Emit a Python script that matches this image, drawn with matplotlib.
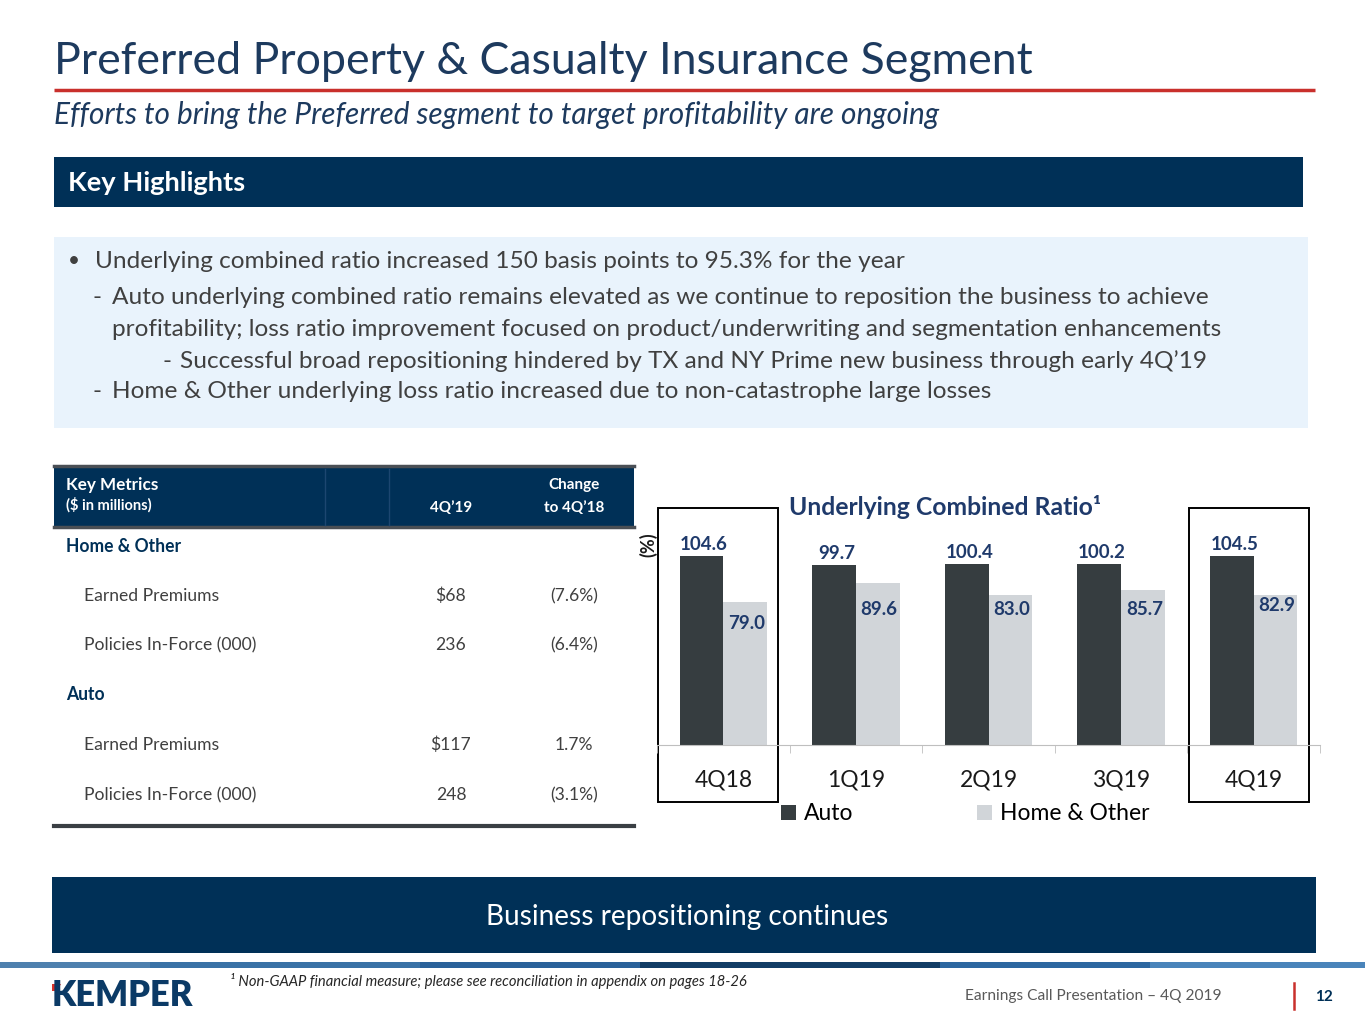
import matplotlib
matplotlib.use("Agg")
import matplotlib.pyplot as plt
from matplotlib.patches import Rectangle, Polygon
import numpy as np

# ---- data ----
quarters = ["4Q18", "1Q19", "2Q19", "3Q19", "4Q19"]
auto_ratio = [104.6, 99.7, 100.4, 100.2, 104.5]
home_ratio = [79.0, 89.6, 83.0, 85.7, 82.9]
series_names = ["Auto", "Home & Other"]
boxed = ["4Q18", "4Q19"]

metric_rows = ["Home & Other", "Earned Premiums", "Policies In-Force (000)",
               "Auto", "Earned Premiums", "Policies In-Force (000)"]
metric_values = ["", "$68", "236", "", "$117", "248"]
metric_change = ["", "(7.6%)", "(6.4%)", "", "1.7%", "(3.1%)"]

bullets = [
    "Underlying combined ratio increased 150 basis points to 95.3% for the year",
    "Auto underlying combined ratio remains elevated as we continue to reposition the business to achieve",
    "profitability; loss ratio improvement focused on product/underwriting and segmentation enhancements",
    "Successful broad repositioning hindered by TX and NY Prime new business through early 4Q\u201919",
    "Home & Other underlying loss ratio increased due to non-catastrophe large losses",
]

# ---- colours ----
NAVY = "#003057"
TITLE = "#1D3A5E"
LABEL = "#1F3A6B"
BODY = "#404040"
AUTO_C = "#363D40"
HOME_C = "#D1D5D9"

plt.rcParams["font.family"] = ["Lato", "DejaVu Sans"]

fig = plt.figure(figsize=(13.65, 10.24), dpi=100)
bg = fig.add_axes([0, 0, 1, 1])
bg.set_xlim(0, 1365)
bg.set_ylim(1024, 0)
bg.axis("off")
renderer = fig.canvas.get_renderer()


def fit(x, y, s, width, **kw):
    # sets the font size so the text is about `width` pixels wide
    t = bg.text(x, y, s, fontsize=12, **kw)
    w = t.get_window_extent(renderer).width
    t.set_fontsize(12 * width / w)
    return t


# title block
fit(54, 62, "Preferred Property & Casualty Insurance Segment", 976, color=TITLE, va="center")
bg.plot([54, 1315], [90, 90], color="#C9302C", lw=2.5, solid_capstyle="butt")
fit(54, 115, "Efforts to bring the Preferred segment to target profitability are ongoing", 881,
    color=TITLE, style="italic", va="center")

# key highlights
bg.add_patch(Rectangle((54, 157), 1249, 50, color=NAVY, lw=0))
fit(68, 183, "Key Highlights", 177, color="white", weight="bold", va="center")
bg.add_patch(Rectangle((54, 237), 1254, 191, color="#E9F3FC", lw=0))

t = fit(112, 329, bullets[2], 1105, color=BODY, va="center")
fs = t.get_fontsize()
bg.text(68, 261, "\u2022", fontsize=fs * 0.85, color=BODY, va="center")
bg.text(95, 261, bullets[0], fontsize=fs, color=BODY, va="center")
bg.text(92, 297, "-", fontsize=fs, color=BODY, va="center")
bg.text(112, 297, bullets[1], fontsize=fs, color=BODY, va="center")
bg.text(162, 361, "-", fontsize=fs, color=BODY, va="center")
bg.text(180, 361, bullets[3], fontsize=fs, color=BODY, va="center")
bg.text(92, 392, "-", fontsize=fs, color=BODY, va="center")
bg.text(112, 392, bullets[4], fontsize=fs, color=BODY, va="center")

# key metrics table
bg.add_patch(Rectangle((54, 465), 580, 62, color=NAVY, lw=0))
bg.plot([54, 634], [466, 466], color="#4A4F55", lw=2.5)
bg.plot([54, 634], [527, 527], color="#4A4F55", lw=2.5)
for xs in [325, 389]:
    bg.plot([xs, xs], [469, 525], color="#1C4670", lw=1)
fit(66, 485, "Key Metrics", 92, color="white", weight="bold", va="center")
fit(66, 505, "($ in millions)", 85, color="white", weight="bold", va="center")
hs = 11
bg.text(451, 508, "4Q\u201919", fontsize=hs, color="white", weight="bold", ha="center", va="center")
bg.text(574, 485, "Change", fontsize=hs, color="white", weight="bold", ha="center", va="center")
bg.text(574, 508, "to 4Q\u201918", fontsize=hs, color="white", weight="bold", ha="center", va="center")

row_y = [546, 596, 645, 695, 745, 795]
t = fit(84, 596, "Earned Premiums", 135, color=BODY, va="center")
ts = t.get_fontsize()
t.remove()
for i, name in enumerate(metric_rows):
    if metric_values[i] == "":
        bg.text(66, row_y[i], name, fontsize=ts, color=NAVY, weight="bold", va="center")
    else:
        bg.text(84, row_y[i], name, fontsize=ts, color=BODY, va="center")
        bg.text(451, row_y[i], metric_values[i], fontsize=ts, color=BODY, ha="center", va="center")
        bg.text(574, row_y[i], metric_change[i], fontsize=ts, color=BODY, ha="center", va="center")
bg.plot([54, 634], [826, 826], color="#3A3F44", lw=3)

# bar chart
x0, x1, ybase, ytop = 657, 1320, 745, 520
ax = fig.add_axes([x0 / 1365, (1024 - ybase) / 1024, (x1 - x0) / 1365, (ybase - ytop) / 1024])
ax.set_facecolor("none")
x = np.arange(len(quarters))
bw = 0.33
b1 = ax.bar(x - bw / 2, auto_ratio, bw, color=AUTO_C, label=series_names[0])
b2 = ax.bar(x + bw / 2, home_ratio, bw, color=HOME_C, label=series_names[1])
ax.set_xlim(-0.5, len(quarters) - 0.5)
ax.set_ylim(0, 124.5)
for s in ["top", "right", "left"]:
    ax.spines[s].set_visible(False)
ax.spines["bottom"].set_color("#BFBFBF")
ax.set_yticks([])
ax.set_xticks(x, quarters, fontsize=16.5, color="#1A1A1A")
ax.tick_params(axis="x", which="major", length=0, pad=18)
ax.set_xticks(np.arange(-0.5, len(quarters)), minor=True)
ax.tick_params(axis="x", which="minor", length=6, color="#BFBFBF")

for i in range(len(quarters)):
    ax.text(x[i] - bw / 2 + 0.02, auto_ratio[i] + 1.5, f"{auto_ratio[i]:.1f}", ha="center", va="bottom",
            fontsize=13.5, weight="bold", color=LABEL)
home_label_y = [67, 75, 75, 75, 77]
for i in range(len(quarters)):
    ax.text(x[i] + bw / 2 + 0.01, home_label_y[i], f"{home_ratio[i]:.1f}", ha="center", va="center",
            fontsize=13.5, weight="bold", color=LABEL)

for q in boxed:
    i = quarters.index(q)
    ax.add_patch(Rectangle((i - 0.49, -31.5), 0.905, 162.7, fill=False, ec="black", lw=1.4,
                           clip_on=False))

fit(789, 507, "Underlying Combined Ratio\u00b9", 311, color=LABEL, weight="bold", va="center")
bg.text(648, 545, "(%)", fontsize=13, weight="bold", color="#1A1A1A", rotation=90,
        ha="center", va="center")

fig.legend(handles=[b1, b2], loc="center", bbox_to_anchor=(965 / 1365, (1024 - 814) / 1024),
           ncol=2, frameon=False, fontsize=16.5, handlelength=0.65, handleheight=0.65,
           handletextpad=0.35, columnspacing=5.4, borderpad=0)

# bottom banner
bg.add_patch(Rectangle((52, 877), 1264, 76, color=NAVY, lw=0))
fit(687, 917, "Business repositioning continues", 401, color="white", ha="center", va="center")

# footer stripe
stripe = [(0, 150, "#4E80AE"), (150, 420, "#3A72A6"), (420, 640, "#2A629A"),
          (640, 940, "#123D66"), (940, 1150, "#2C67A0"), (1150, 1365, "#4A84BA")]
for a, b, c in stripe:
    bg.add_patch(Rectangle((a, 962), b - a, 6, color=c, lw=0))

fit(52, 996, "KEMPER", 141, color="#0B3A66", weight="heavy", va="center")
bg.add_patch(Polygon([[52, 984], [61, 984], [57, 991], [52, 991]], color="#D9342B", lw=0))
fit(230, 981, "\u00b9 Non-GAAP financial measure; please see reconciliation in appendix on pages 18-26", 517,
    color="#262626", style="italic", va="center")
fit(965, 996, "Earnings Call Presentation \u2013 4Q 2019", 255, color="#595959", va="center")
bg.plot([1294, 1294], [983, 1009], color="#C9302C", lw=1.8)
bg.text(1324, 997, "12", fontsize=11, color=NAVY, weight="bold", ha="center", va="center")

fig.savefig("out.png", dpi=100)
